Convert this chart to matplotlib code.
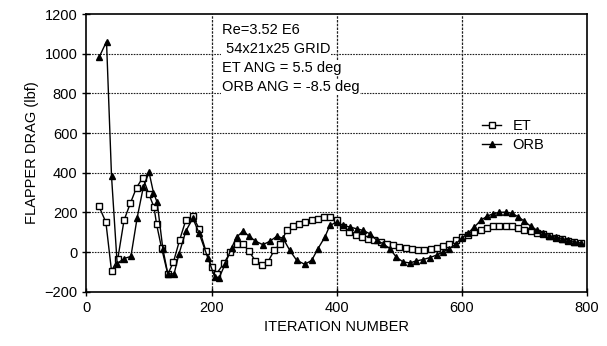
import matplotlib
matplotlib.use("Agg")
import matplotlib.pyplot as plt

plt.rcParams['font.family'] = ['Liberation Sans', 'DejaVu Sans']

et_iter = [20, 31, 40, 50, 60, 70, 80, 90, 100, 108, 112, 120, 130, 139, 149, 159, 170, 180, 191,
           200, 208, 220, 230, 240, 250, 260, 270, 280, 290, 300, 310, 320, 330, 340, 350, 360,
           370, 380, 390, 400, 410, 420, 430, 440, 450, 460, 470, 480, 490, 500, 510, 520, 530,
           540, 550, 560, 570, 580, 590, 600, 610, 620, 630, 640, 650, 660, 670, 680, 690, 700,
           710, 720, 730, 740, 750, 760, 770, 780, 790]
et_drag = [230, 150, -96, -35, 160, 245, 325, 375, 290, 225, 140, 20, -112, -50, 62, 163, 180, 118, 3,
           -75, -109, -55, 0, 42, 42, 3, -45, -67, -50, 8, 42, 109, 129, 142, 151, 159,
           168, 176, 176, 159, 126, 100, 84, 75, 67, 59, 50, 42, 34, 25, 20, 15, 12,
           12, 15, 20, 29, 42, 59, 75, 88, 101, 113, 123, 130, 133, 133, 130, 123, 113,
           105, 98, 90, 80, 72, 64, 57, 52, 45]

orb_iter = [20, 32, 40, 49, 60, 71, 81, 91, 100, 107, 113, 122, 130, 140, 148, 159, 170, 180, 194,
            205, 212, 222, 232, 240, 250, 260, 270, 282, 293, 304, 314, 325, 336, 349, 360, 370,
            381, 389, 400, 410, 421, 432, 442, 453, 464, 474, 485, 495, 506, 517, 527, 538, 549,
            560, 570, 580, 590, 600, 610, 620, 630, 640, 650, 660, 670, 680, 690, 700, 710, 720,
            730, 740, 750, 760, 770, 780, 790]
orb_drag = [981, 1061, 382, -58, -33, -22, 173, 330, 402, 300, 250, 17, -110, -110, -8, 107, 170, 95, -30,
            -126, -130, -58, 22, 75, 105, 80, 55, 37, 54, 79, 70, 8, -42, -62, -42, 17,
            75, 134, 151, 134, 126, 117, 109, 92, 59, 42, 17, -25, -50, -55, -45, -38, -28,
            -15, 0, 17, 40, 70, 95, 126, 159, 180, 193, 200, 201, 195, 178, 155, 130, 110,
            95, 82, 75, 68, 60, 52, 45]

annot_lines = ["Re=3.52 E6", " 54x21x25 GRID", "ET ANG = 5.5 deg", "ORB ANG = -8.5 deg"]
x_ticks = [0, 200, 400, 600, 800]
y_ticks = [-200, 0, 200, 400, 600, 800, 1000, 1200]

fig = plt.figure(figsize=(6.07, 3.46), dpi=100)
ax = fig.add_axes([0.1425, 0.157, 0.8245, 0.8025])

ax.set_xlim(0, 800)
ax.set_ylim(-200, 1200)
ax.set_xticks(x_ticks)
ax.set_yticks(y_ticks)
ax.tick_params(direction='inout', length=6, width=1, labelsize=10.5, colors='black')
for s in ax.spines.values():
    s.set_linewidth(1.2)

for y in y_ticks[1:-1]:
    ax.axhline(y, color='#222222', lw=0.8, ls=(0, (1.5, 1)), zorder=1)
for x in x_ticks[1:-1]:
    ax.axvline(x, color='#222222', lw=0.9, ls=(0, (2, 1)), zorder=1)

ax.plot(et_iter, et_drag, color='black', lw=1.0, marker='s', markersize=4.5,
        markerfacecolor='white', markeredgecolor='black', markeredgewidth=1.0, label='ET', zorder=3)
ax.plot(orb_iter, orb_drag, color='black', lw=1.0, marker='^', markersize=5,
        markerfacecolor='black', markeredgecolor='black', label='ORB', zorder=4)

ax.set_xlabel('ITERATION NUMBER', fontsize=10.5, labelpad=4)
ax.set_ylabel('FLAPPER DRAG (lbf)', fontsize=10.5, labelpad=4)

ys = [0.942, 0.874, 0.806, 0.737]
for t, yy in zip(annot_lines, ys):
    ax.text(0.271, yy, t, transform=ax.transAxes, fontsize=10.5, va='center', ha='left',
            bbox=dict(facecolor='white', edgecolor='none', pad=0.5), zorder=5)

leg = ax.legend(loc='upper left', bbox_to_anchor=(0.77, 0.66), frameon=False, fontsize=10.5,
                handlelength=1.3, labelspacing=0.4, borderpad=0.2, handletextpad=0.8)

fig.savefig('out.png', dpi=100)
